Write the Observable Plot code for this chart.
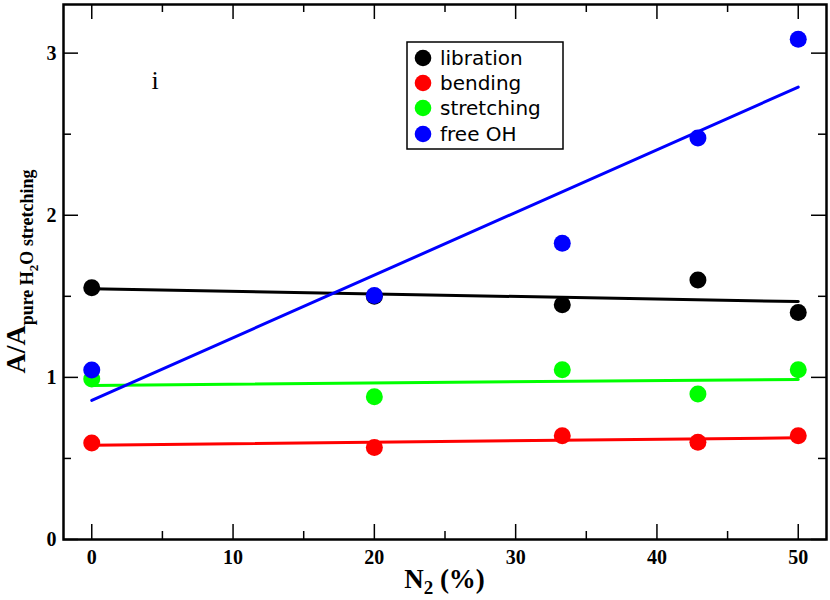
<!DOCTYPE html>
<html>
<head>
<meta charset="utf-8">
<script src="https://cdn.jsdelivr.net/npm/d3@7"></script>
<script src="https://cdn.jsdelivr.net/npm/@observablehq/plot@0.6"></script>
<style>
  body { margin: 0; background: #fff; }
  #chart svg { display: block; }
</style>
</head>
<body>
<div id="chart"></div>
<script>
const n2 = [0, 20, 33.3, 42.9, 50];
const libration = [1.553, 1.50, 1.448, 1.60, 1.40];
const bending = [0.595, 0.567, 0.64, 0.60, 0.64];
const stretching = [0.99, 0.88, 1.047, 0.897, 1.047];
const freeOH = [1.045, 1.505, 1.828, 2.476, 3.086];

const seriesNames = ["libration", "bending", "stretching", "free OH"];
const seriesColors = ["#000000", "#ff0000", "#00ff00", "#0000ff"];
const seriesValues = [libration, bending, stretching, freeOH];

const xMajor = [0, 10, 20, 30, 40, 50];
const xMinor = [5, 15, 25, 35, 45];
const yMajor = [0, 1, 2, 3];
const yMinor = [0.5, 1.5, 2.5];

const data = seriesNames.flatMap((s, i) => n2.map((x, j) => ({series: s, x, y: seriesValues[i][j]})));

const W = 830, H = 600;
const mL = 63, mR = 4, mT = 4, mB = 61;
const pw = W - mL - mR, ph = H - mT - mB;
const serif = "'Liberation Serif', 'DejaVu Serif', serif";

const plot = Plot.plot({
  width: W,
  height: H,
  marginLeft: mL,
  marginRight: mR,
  marginTop: mT,
  marginBottom: mB,
  style: {background: "#fff", fontFamily: serif},
  x: {domain: [-2, 52]},
  y: {domain: [0, 3.3]},
  color: {domain: seriesNames, range: seriesColors},
  marks: [
    // ticks inward on all sides
    Plot.tickX(xMajor, {x: d => d, insetTop: ph - 15, stroke: "#000", strokeWidth: 1.5}),
    Plot.tickX(xMajor, {x: d => d, insetBottom: ph - 15, stroke: "#000", strokeWidth: 1.5}),
    Plot.tickX(xMinor, {x: d => d, insetTop: ph - 8, stroke: "#000", strokeWidth: 1.5}),
    Plot.tickX(xMinor, {x: d => d, insetBottom: ph - 8, stroke: "#000", strokeWidth: 1.5}),
    Plot.tickY(yMajor, {y: d => d, insetRight: pw - 15, stroke: "#000", strokeWidth: 1.5}),
    Plot.tickY(yMajor, {y: d => d, insetLeft: pw - 15, stroke: "#000", strokeWidth: 1.5}),
    Plot.tickY(yMinor, {y: d => d, insetRight: pw - 8, stroke: "#000", strokeWidth: 1.5}),
    Plot.tickY(yMinor, {y: d => d, insetLeft: pw - 8, stroke: "#000", strokeWidth: 1.5}),
    Plot.axisX(xMajor, {tickSize: 0, tickPadding: 10, fontSize: 20, fontWeight: "bold", fontFamily: serif, label: null, color: "#000", tickFormat: d => String(d)}),
    Plot.axisY(yMajor, {tickSize: 0, tickPadding: 7, fontSize: 20, fontWeight: "bold", fontFamily: serif, label: null, color: "#000", tickFormat: d => String(d)}),
    Plot.linearRegressionY(data, {x: "x", y: "y", stroke: "series", ci: 0, strokeWidth: 3}),
    Plot.dot(data, {x: "x", y: "y", fill: "series", r: 8.5}),
    Plot.text(["i"], {frameAnchor: "top-left", dx: 88, dy: 66, fontSize: 26, fontFamily: serif, fill: "#000", textAnchor: "start", lineAnchor: "top"}),
    Plot.frame({stroke: "#000", strokeWidth: 2.5})
  ]
});

document.getElementById("chart").appendChild(plot);

const svg = d3.select(plot);

// Y axis title with subscripts
const yt = svg.append("text")
  .attr("transform", `translate(25,${mT + ph / 2}) rotate(-90)`)
  .attr("text-anchor", "middle")
  .attr("font-family", serif)
  .attr("font-weight", "bold")
  .attr("font-size", 28)
  .attr("fill", "#000");
yt.append("tspan").text("A/A");
yt.append("tspan").attr("font-size", 18).attr("dy", 8).text("pure H");
yt.append("tspan").attr("font-size", 13).attr("dy", 5).text("2");
yt.append("tspan").attr("font-size", 18).attr("dy", -5).text("O stretching");

// X axis title with subscript
const xt = svg.append("text")
  .attr("x", mL + pw / 2)
  .attr("y", 588)
  .attr("text-anchor", "middle")
  .attr("font-family", serif)
  .attr("font-weight", "bold")
  .attr("font-size", 27)
  .attr("fill", "#000");
xt.append("tspan").text("N");
xt.append("tspan").attr("font-size", 19).attr("dy", 6).text("2");
xt.append("tspan").attr("dy", -6).text(" (%)");

// Legend
const lg = svg.append("g").attr("text-anchor", "start");
lg.append("rect")
  .attr("x", 407).attr("y", 42).attr("width", 156).attr("height", 107)
  .attr("fill", "#fff").attr("stroke", "#000").attr("stroke-width", 1.5);
const rowsY = [58, 83, 108, 134];
seriesNames.forEach((s, i) => {
  lg.append("circle").attr("cx", 423).attr("cy", rowsY[i]).attr("r", 8.3).attr("fill", seriesColors[i]);
  lg.append("text").attr("x", 440).attr("y", rowsY[i]).attr("dy", "0.35em")
    .attr("text-anchor", "start")
    .attr("font-family", "'DejaVu Sans', sans-serif").attr("font-size", 20).attr("fill", "#000").text(s);
});
</script>
</body>
</html>
